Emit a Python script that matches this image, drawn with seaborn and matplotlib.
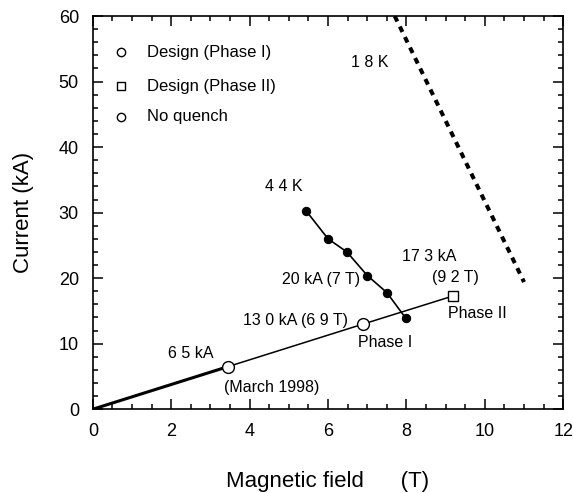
import matplotlib
matplotlib.use("Agg")
import matplotlib.pyplot as plt
import seaborn as sns
import pandas as pd
from matplotlib.ticker import MultipleLocator

# load line (origin -> 6.5 kA -> Phase I -> Phase II design point)
load_b = [0.0, 3.45, 6.9, 9.2]
load_i = [0.0, 6.5, 13.0, 17.3]

# quench points at 4.4 K
q44_b = [5.45, 6.0, 6.48, 7.0, 7.5, 7.98]
q44_i = [30.2, 26.0, 24.0, 20.4, 17.8, 13.9]

# 1.8 K estimate (dashed)
k18_b = [7.7, 11.0]
k18_i = [60.0, 19.4]

sns.set_style("ticks", {'text.color': 'black', 'axes.labelcolor': 'black',
                        'axes.edgecolor': 'black', 'xtick.color': 'black',
                        'ytick.color': 'black'})
plt.rcParams['font.family'] = ['Liberation Sans', 'DejaVu Sans']

fig = plt.figure(figsize=(5.73, 4.93), dpi=100)
ax = fig.add_axes([0.162, 0.170, 0.821, 0.7975])

load = pd.DataFrame({'B': load_b, 'I': load_i})
q44 = pd.DataFrame({'B': q44_b, 'I': q44_i})
k18 = pd.DataFrame({'B': k18_b, 'I': k18_i})

# first stretch of the load line is drawn heavier (operated up to 6.5 kA)
sns.lineplot(data=load.iloc[:2], x='B', y='I', color='black', lw=2.2, ax=ax)
sns.lineplot(data=load.iloc[1:], x='B', y='I', color='black', lw=1.1, ax=ax)
sns.lineplot(data=q44, x='B', y='I', color='black', lw=1.2, marker='o',
             markersize=6, markeredgecolor='black', ax=ax)
sns.lineplot(data=k18, x='B', y='I', color='black', lw=2.9, ax=ax,
             linestyle=(0, (1.5, 1.4)))

# design markers
ax.plot(load_b[1:3], load_i[1:3], 'o', ms=8.5, mfc='white', mec='black', mew=1)
ax.plot(load_b[3], load_i[3], 's', ms=7, mfc='white', mec='black', mew=1)

# legend-like text block
leg = [('o', 'Design (Phase I)', 54.5), ('s', 'Design (Phase II)', 49.3), ('o', 'No quench', 44.6)]
for m, t, yy in leg:
    ax.plot(0.71, yy, m, ms=6, mfc='white', mec='black', mew=1)
    ax.text(1.38, yy, t, fontsize=12, va='center')

fs = 11.5
ax.text(6.58, 52.2, '1 8 K', fontsize=fs)
ax.text(4.39, 33.3, '4 4 K', fontsize=fs)
ax.text(7.88, 22.6, '17 3 kA', fontsize=fs)
ax.text(8.65, 19.4, '(9 2 T)', fontsize=fs)
ax.text(4.82, 19.1, '20 kA (7 T)', fontsize=fs)
ax.text(3.83, 12.8, '13 0 kA (6 9 T)', fontsize=fs)
ax.text(6.76, 9.5, 'Phase I', fontsize=fs)
ax.text(9.06, 13.9, 'Phase II', fontsize=fs)
ax.text(1.91, 7.8, '6 5 kA', fontsize=fs)
ax.text(3.34, 2.6, '(March 1998)', fontsize=fs)

ax.set_xlim(0, 12)
ax.set_ylim(0, 60)
ax.xaxis.set_major_locator(MultipleLocator(2))
ax.xaxis.set_minor_locator(MultipleLocator(0.5))
ax.yaxis.set_major_locator(MultipleLocator(10))
ax.yaxis.set_minor_locator(MultipleLocator(2))
ax.tick_params(which='both', direction='in', top=True, right=True,
               labelsize=13, pad=10, width=1.1)
ax.tick_params(which='major', length=7)
ax.tick_params(which='minor', length=3.5)
for s in ax.spines.values():
    s.set_linewidth(1.2)
    s.set_visible(True)

ax.set_xlabel('Magnetic field      (T)', fontsize=16, labelpad=22)
ax.set_ylabel('Current (kA)', fontsize=16, labelpad=18)

fig.savefig('out.png', dpi=100)
